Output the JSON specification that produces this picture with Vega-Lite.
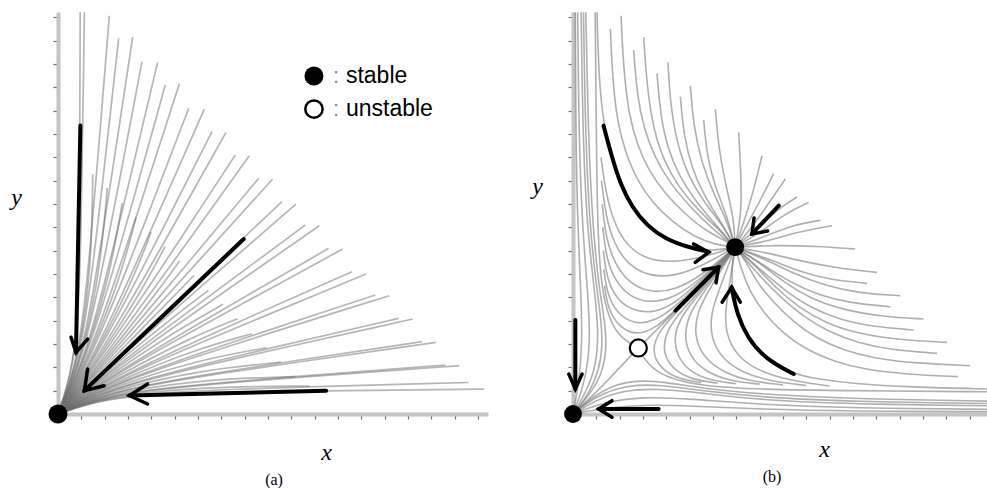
{
"$schema":"https://vega.github.io/schema/vega-lite/v6.json",
"padding":{"left":10,"top":8,"right":0,"bottom":0},
"config":{"view":{"stroke":null},"axis":{"labels":false,"grid":false,"domainColor":"#c4c4c4","domainWidth":4,"tickColor":"#6e6e6e","tickSize":5,"tickWidth":1.2,"titleFont":"Liberation Serif","titleFontStyle":"italic","titleFontSize":24,"titleFontWeight":"normal","titleColor":"#000","titleAlign":"center","titleBaseline":"alphabetic"}},
"datasets":{
"fanA":[
{"l":"a0","x":0.95,"y":17.22},{"l":"a0","x":0.92,"y":6.43},{"l":"a0","x":0.77,"y":2.9},{"l":"a0","x":0.39,"y":1.13},{"l":"a0","x":0,"y":0},
{"l":"a1","x":1.13,"y":17.22},{"l":"a1","x":0.98,"y":6.43},{"l":"a1","x":0.79,"y":2.89},{"l":"a1","x":0.4,"y":1.13},{"l":"a1","x":0,"y":0},
{"l":"a2","x":2.2,"y":17.07},{"l":"a2","x":1.34,"y":6.36},{"l":"a2","x":0.92,"y":2.86},{"l":"a2","x":0.44,"y":1.12},{"l":"a2","x":0,"y":0},
{"l":"h2","x":2.6,"y":16.1},{"l":"h2","x":1.52,"y":6.32},{"l":"h2","x":0.99,"y":2.83},{"l":"h2","x":0.46,"y":1.11},{"l":"h2","x":0,"y":0},
{"l":"a3","x":3.2,"y":16.15},{"l":"a3","x":1.71,"y":6.27},{"l":"a3","x":1.06,"y":2.81},{"l":"a3","x":0.49,"y":1.1},{"l":"a3","x":0,"y":0},
{"l":"h3","x":3.6,"y":15.1},{"l":"h3","x":1.92,"y":6.21},{"l":"h3","x":1.14,"y":2.78},{"l":"h3","x":0.51,"y":1.08},{"l":"h3","x":0,"y":0},
{"l":"a4","x":4.27,"y":15.07},{"l":"a4","x":2.15,"y":6.13},{"l":"a4","x":1.22,"y":2.74},{"l":"a4","x":0.54,"y":1.07},{"l":"a4","x":0,"y":0},
{"l":"h4","x":4.6,"y":14.1},{"l":"h4","x":2.36,"y":6.06},{"l":"h4","x":1.3,"y":2.71},{"l":"h4","x":0.57,"y":1.06},{"l":"h4","x":0,"y":0},
{"l":"a5","x":5.2,"y":14.14},{"l":"a5","x":2.56,"y":5.98},{"l":"a5","x":1.37,"y":2.67},{"l":"a5","x":0.59,"y":1.04},{"l":"a5","x":0,"y":0},
{"l":"h5","x":5.6,"y":13.1},{"l":"h5","x":2.83,"y":5.85},{"l":"h5","x":1.47,"y":2.62},{"l":"h5","x":0.63,"y":1.02},{"l":"h5","x":0,"y":0},
{"l":"a6","x":6.27,"y":13.07},{"l":"a6","x":3.05,"y":5.74},{"l":"a6","x":1.55,"y":2.57},{"l":"a6","x":0.65,"y":1.01},{"l":"a6","x":0,"y":0},
{"l":"h6","x":6.6,"y":12.1},{"l":"h6","x":3.31,"y":5.6},{"l":"h6","x":1.64,"y":2.51},{"l":"h6","x":0.69,"y":0.98},{"l":"h6","x":0,"y":0},
{"l":"a7","x":7.2,"y":12.07},{"l":"a7","x":3.5,"y":5.48},{"l":"a7","x":1.71,"y":2.46},{"l":"a7","x":0.71,"y":0.97},{"l":"a7","x":0,"y":0},
{"l":"h7","x":7.6,"y":11.1},{"l":"h7","x":3.79,"y":5.28},{"l":"h7","x":1.82,"y":2.38},{"l":"h7","x":0.75,"y":0.94},{"l":"h7","x":0,"y":0},
{"l":"a8","x":8.2,"y":11.07},{"l":"a8","x":3.96,"y":5.15},{"l":"a8","x":1.88,"y":2.33},{"l":"a8","x":0.77,"y":0.92},{"l":"a8","x":0,"y":0},
{"l":"h8","x":8.6,"y":10.1},{"l":"h8","x":4.26,"y":4.91},{"l":"h8","x":2.0,"y":2.24},{"l":"h8","x":0.81,"y":0.89},{"l":"h8","x":0,"y":0},
{"l":"a9","x":9.2,"y":10.07},{"l":"a9","x":4.41,"y":4.77},{"l":"a9","x":2.05,"y":2.19},{"l":"a9","x":0.82,"y":0.87},{"l":"a9","x":0,"y":0},
{"l":"h9","x":9.6,"y":9.1},{"l":"h9","x":4.7,"y":4.49},{"l":"h9","x":2.16,"y":2.08},{"l":"h9","x":0.86,"y":0.83},{"l":"h9","x":0,"y":0},
{"l":"a10","x":10.2,"y":9.0},{"l":"a10","x":4.84,"y":4.34},{"l":"a10","x":2.21,"y":2.02},{"l":"a10","x":0.88,"y":0.82},{"l":"a10","x":0,"y":0},
{"l":"h10","x":10.6,"y":8.1},{"l":"h10","x":5.1,"y":4.03},{"l":"h10","x":2.31,"y":1.91},{"l":"h10","x":0.92,"y":0.78},{"l":"h10","x":0,"y":0},
{"l":"a11","x":11.2,"y":8.07},{"l":"a11","x":5.2,"y":3.9},{"l":"a11","x":2.35,"y":1.86},{"l":"a11","x":0.93,"y":0.76},{"l":"a11","x":0,"y":0},
{"l":"h11","x":11.6,"y":7.1},{"l":"h11","x":5.45,"y":3.55},{"l":"h11","x":2.45,"y":1.73},{"l":"h11","x":0.96,"y":0.72},{"l":"h11","x":0,"y":0},
{"l":"a12","x":12.2,"y":7.07},{"l":"a12","x":5.52,"y":3.43},{"l":"a12","x":2.48,"y":1.69},{"l":"a12","x":0.97,"y":0.7},{"l":"a12","x":0,"y":0},
{"l":"h12","x":12.6,"y":6.1},{"l":"h12","x":5.73,"y":3.06},{"l":"h12","x":2.57,"y":1.55},{"l":"h12","x":1.01,"y":0.66},{"l":"h12","x":0,"y":0},
{"l":"a13","x":13.2,"y":6.0},{"l":"a13","x":5.8,"y":2.94},{"l":"a13","x":2.59,"y":1.51},{"l":"a13","x":1.01,"y":0.64},{"l":"a13","x":0,"y":0},
{"l":"h13","x":13.6,"y":5.1},{"l":"h13","x":5.96,"y":2.59},{"l":"h13","x":2.66,"y":1.38},{"l":"h13","x":1.04,"y":0.6},{"l":"h13","x":0,"y":0},
{"l":"a14","x":14.2,"y":5.07},{"l":"a14","x":6.0,"y":2.51},{"l":"a14","x":2.68,"y":1.35},{"l":"a14","x":1.05,"y":0.59},{"l":"a14","x":0,"y":0},
{"l":"h14","x":14.6,"y":4.1},{"l":"h14","x":6.14,"y":2.14},{"l":"h14","x":2.74,"y":1.22},{"l":"h14","x":1.07,"y":0.54},{"l":"h14","x":0,"y":0},
{"l":"a15","x":15.2,"y":4.07},{"l":"a15","x":6.16,"y":2.07},{"l":"a15","x":2.75,"y":1.19},{"l":"a15","x":1.07,"y":0.53},{"l":"a15","x":0,"y":0},
{"l":"h15","x":15.6,"y":3.1},{"l":"h15","x":6.27,"y":1.71},{"l":"h15","x":2.81,"y":1.06},{"l":"h15","x":1.1,"y":0.49},{"l":"h15","x":0,"y":0},
{"l":"a16","x":16.2,"y":3.07},{"l":"a16","x":6.28,"y":1.66},{"l":"a16","x":2.81,"y":1.04},{"l":"a16","x":1.1,"y":0.48},{"l":"a16","x":0,"y":0},
{"l":"h16","x":16.6,"y":2.1},{"l":"h16","x":6.36,"y":1.32},{"l":"h16","x":2.86,"y":0.92},{"l":"h16","x":1.12,"y":0.44},{"l":"h16","x":0,"y":0},
{"l":"a17","x":17.2,"y":2.07},{"l":"a17","x":6.37,"y":1.29},{"l":"a17","x":2.86,"y":0.9},{"l":"a17","x":1.12,"y":0.44},{"l":"a17","x":0,"y":0},
{"l":"h17","x":17.6,"y":1.35},{"l":"h17","x":6.42,"y":1.05},{"l":"h17","x":2.89,"y":0.81},{"l":"h17","x":1.13,"y":0.41},{"l":"h17","x":0,"y":0},
{"l":"a18","x":18.27,"y":1.07},{"l":"a18","x":6.43,"y":0.94},{"l":"a18","x":2.9,"y":0.78},{"l":"a18","x":1.13,"y":0.39},{"l":"a18","x":0,"y":0},
{"l":"q2","x":1.49,"y":10.28},{"l":"q2","x":1.43,"y":6.34},{"l":"q2","x":0.955,"y":2.845},{"l":"q2","x":0.45,"y":1.115},{"l":"q2","x":0,"y":0},
{"l":"q3","x":2.11,"y":9.69},{"l":"q3","x":1.815,"y":6.24},{"l":"q3","x":1.1,"y":2.795},{"l":"q3","x":0.5,"y":1.09},{"l":"q3","x":0,"y":0},
{"l":"q4","x":2.75,"y":9.04},{"l":"q4","x":2.255,"y":6.095},{"l":"q4","x":1.26,"y":2.725},{"l":"q4","x":0.555,"y":1.065},{"l":"q4","x":0,"y":0},
{"l":"q5","x":3.35,"y":8.44},{"l":"q5","x":2.695,"y":5.915},{"l":"q5","x":1.42,"y":2.645},{"l":"q5","x":0.61,"y":1.03},{"l":"q5","x":0,"y":0},
{"l":"q6","x":3.99,"y":7.8},{"l":"q6","x":3.18,"y":5.67},{"l":"q6","x":1.595,"y":2.54},{"l":"q6","x":0.67,"y":0.995},{"l":"q6","x":0,"y":0},
{"l":"q7","x":4.59,"y":7.18},{"l":"q7","x":3.645,"y":5.38},{"l":"q7","x":1.765,"y":2.42},{"l":"q7","x":0.73,"y":0.955},{"l":"q7","x":0,"y":0},
{"l":"q8","x":5.21,"y":6.56},{"l":"q8","x":4.11,"y":5.03},{"l":"q8","x":1.94,"y":2.285},{"l":"q8","x":0.79,"y":0.905},{"l":"q8","x":0,"y":0},
{"l":"q9","x":5.83,"y":5.94},{"l":"q9","x":4.555,"y":4.63},{"l":"q9","x":2.105,"y":2.135},{"l":"q9","x":0.84,"y":0.85},{"l":"q9","x":0,"y":0},
{"l":"q10","x":6.45,"y":5.3},{"l":"q10","x":4.97,"y":4.185},{"l":"q10","x":2.26,"y":1.965},{"l":"q10","x":0.9,"y":0.8},{"l":"q10","x":0,"y":0},
{"l":"q11","x":7.07,"y":4.7},{"l":"q11","x":5.325,"y":3.725},{"l":"q11","x":2.4,"y":1.795},{"l":"q11","x":0.945,"y":0.74},{"l":"q11","x":0,"y":0},
{"l":"q12","x":7.69,"y":4.08},{"l":"q12","x":5.625,"y":3.245},{"l":"q12","x":2.525,"y":1.62},{"l":"q12","x":0.99,"y":0.68},{"l":"q12","x":0,"y":0},
{"l":"q13","x":8.31,"y":3.44},{"l":"q13","x":5.88,"y":2.765},{"l":"q13","x":2.625,"y":1.445},{"l":"q13","x":1.025,"y":0.62},{"l":"q13","x":0,"y":0},
{"l":"q14","x":8.93,"y":2.84},{"l":"q14","x":6.07,"y":2.325},{"l":"q14","x":2.71,"y":1.285},{"l":"q14","x":1.06,"y":0.565},{"l":"q14","x":0,"y":0},
{"l":"q15","x":9.55,"y":2.22},{"l":"q15","x":6.215,"y":1.89},{"l":"q15","x":2.78,"y":1.125},{"l":"q15","x":1.085,"y":0.51},{"l":"q15","x":0,"y":0},
{"l":"q16","x":10.17,"y":1.6},{"l":"q16","x":6.32,"y":1.49},{"l":"q16","x":2.835,"y":0.98},{"l":"q16","x":1.11,"y":0.46},{"l":"q16","x":0,"y":0},
{"l":"q17","x":10.79,"y":1.2},{"l":"q17","x":6.395,"y":1.17},{"l":"q17","x":2.875,"y":0.855},{"l":"q17","x":1.125,"y":0.425},{"l":"q17","x":0,"y":0}
],
"shaftA":[
{"l":"v","x":0.96,"y":12.36},{"l":"v","x":0.77,"y":2.64},
{"l":"d","x":7.96,"y":7.5},{"l":"d","x":1.13,"y":1.0},
{"l":"h","x":11.49,"y":1.0},{"l":"h","x":3.06,"y":0.79}
],
"headA":[
{"l":"v","x":0.56,"y":3.29},{"l":"v","x":0.77,"y":2.64},{"l":"v","x":1.27,"y":3.21},
{"l":"d","x":1.27,"y":1.93},{"l":"d","x":1.13,"y":1.0},{"l":"d","x":1.98,"y":1.21},
{"l":"h","x":3.84,"y":1.29},{"l":"h","x":3.06,"y":0.79},{"l":"h","x":3.84,"y":0.43}
],
"fanB":[
{"l":"L1","x":1.03,"y":17.22},{"l":"L1","x":1.1,"y":14.5},{"l":"L1","x":1.31,"y":12.36},{"l":"L1","x":1.67,"y":11.0},{"l":"L1","x":2.03,"y":9.86},{"l":"L1","x":2.53,"y":8.86},{"l":"L1","x":3.17,"y":8.07},{"l":"L1","x":3.96,"y":7.5},{"l":"L1","x":4.96,"y":7.14},{"l":"L1","x":5.85,"y":6.97},{"l":"L1","x":6.95,"y":7.15},
{"l":"L15","x":1.6,"y":16.5},{"l":"L15","x":1.7,"y":14.3},{"l":"L15","x":1.9,"y":12.5},{"l":"L15","x":2.25,"y":11.2},{"l":"L15","x":2.75,"y":10.0},{"l":"L15","x":3.45,"y":9.0},{"l":"L15","x":4.3,"y":8.2},{"l":"L15","x":5.2,"y":7.6},{"l":"L15","x":6.1,"y":7.25},{"l":"L15","x":6.95,"y":7.15},
{"l":"L2","x":2.06,"y":17.07},{"l":"L2","x":2.17,"y":14.72},{"l":"L2","x":2.39,"y":12.86},{"l":"L2","x":2.74,"y":11.57},{"l":"L2","x":3.24,"y":10.43},{"l":"L2","x":3.96,"y":9.43},{"l":"L2","x":4.81,"y":8.57},{"l":"L2","x":5.67,"y":7.86},{"l":"L2","x":6.53,"y":7.43},{"l":"L2","x":6.95,"y":7.15},
{"l":"L25","x":2.6,"y":15.6},{"l":"L25","x":2.75,"y":13.6},{"l":"L25","x":3.05,"y":12.2},{"l":"L25","x":3.5,"y":11.0},{"l":"L25","x":4.15,"y":9.9},{"l":"L25","x":5.0,"y":8.9},{"l":"L25","x":5.9,"y":8.0},{"l":"L25","x":6.95,"y":7.15},
{"l":"L3","x":3.03,"y":16.15},{"l":"L3","x":3.17,"y":14.0},{"l":"L3","x":3.46,"y":12.14},{"l":"L3","x":3.89,"y":10.86},{"l":"L3","x":4.53,"y":9.71},{"l":"L3","x":5.39,"y":8.71},{"l":"L3","x":6.24,"y":7.93},{"l":"L3","x":6.95,"y":7.15},
{"l":"L35","x":3.6,"y":14.6},{"l":"L35","x":3.75,"y":12.8},{"l":"L35","x":4.05,"y":11.4},{"l":"L35","x":4.55,"y":10.2},{"l":"L35","x":5.2,"y":9.2},{"l":"L35","x":5.95,"y":8.3},{"l":"L35","x":6.95,"y":7.15},
{"l":"L4","x":4.07,"y":15.07},{"l":"L4","x":4.17,"y":13.29},{"l":"L4","x":4.46,"y":11.57},{"l":"L4","x":4.96,"y":10.14},{"l":"L4","x":5.67,"y":9.0},{"l":"L4","x":6.39,"y":8.14},{"l":"L4","x":6.95,"y":7.15},
{"l":"L45","x":4.6,"y":13.6},{"l":"L45","x":4.75,"y":11.9},{"l":"L45","x":5.1,"y":10.5},{"l":"L45","x":5.65,"y":9.3},{"l":"L45","x":6.3,"y":8.3},{"l":"L45","x":6.95,"y":7.15},
{"l":"L5","x":5.03,"y":14.07},{"l":"L5","x":5.17,"y":12.29},{"l":"L5","x":5.53,"y":10.71},{"l":"L5","x":6.03,"y":9.43},{"l":"L5","x":6.6,"y":8.29},{"l":"L5","x":6.95,"y":7.15},
{"l":"L55","x":5.6,"y":12.6},{"l":"L55","x":5.75,"y":11.0},{"l":"L55","x":6.1,"y":9.7},{"l":"L55","x":6.6,"y":8.5},{"l":"L55","x":6.95,"y":7.15},
{"l":"L6","x":6.1,"y":13.07},{"l":"L6","x":6.24,"y":11.43},{"l":"L6","x":6.53,"y":9.86},{"l":"L6","x":6.89,"y":8.43},{"l":"L6","x":6.95,"y":7.15},
{"l":"L7","x":7.1,"y":12.07},{"l":"L7","x":7.19,"y":10.43},{"l":"L7","x":7.24,"y":8.71},{"l":"L7","x":6.95,"y":7.15},
{"l":"D1","x":8.1,"y":11.07},{"l":"D1","x":7.75,"y":9.6},{"l":"D1","x":7.35,"y":8.3},{"l":"D1","x":6.95,"y":7.15},
{"l":"D15","x":8.6,"y":10.3},{"l":"D15","x":8.0,"y":9.1},{"l":"D15","x":7.45,"y":8.1},{"l":"D15","x":6.95,"y":7.15},
{"l":"D2","x":9.1,"y":10.07},{"l":"D2","x":8.5,"y":9.2},{"l":"D2","x":7.75,"y":8.1},{"l":"D2","x":6.95,"y":7.15},
{"l":"D25","x":9.6,"y":9.3},{"l":"D25","x":8.8,"y":8.8},{"l":"D25","x":7.9,"y":7.95},{"l":"D25","x":6.95,"y":7.15},
{"l":"D3","x":10.1,"y":9.07},{"l":"D3","x":9.1,"y":8.6},{"l":"D3","x":8.0,"y":7.75},{"l":"D3","x":6.95,"y":7.15},
{"l":"D35","x":10.6,"y":8.3},{"l":"D35","x":9.4,"y":8.1},{"l":"D35","x":8.2,"y":7.6},{"l":"D35","x":6.95,"y":7.15},
{"l":"D4","x":11.1,"y":8.07},{"l":"D4","x":9.6,"y":7.8},{"l":"D4","x":8.3,"y":7.4},{"l":"D4","x":6.95,"y":7.15},
{"l":"R7","x":12.1,"y":7.07},{"l":"R7","x":10.43,"y":7.19},{"l":"R7","x":8.71,"y":7.24},{"l":"R7","x":6.95,"y":7.15},
{"l":"R55","x":12.6,"y":5.6},{"l":"R55","x":11.0,"y":5.75},{"l":"R55","x":9.7,"y":6.1},{"l":"R55","x":8.5,"y":6.6},{"l":"R55","x":6.95,"y":7.15},
{"l":"R6","x":13.03,"y":6.07},{"l":"R6","x":11.43,"y":6.24},{"l":"R6","x":9.86,"y":6.53},{"l":"R6","x":8.43,"y":6.89},{"l":"R6","x":6.95,"y":7.15},
{"l":"R5","x":14.03,"y":5.07},{"l":"R5","x":12.29,"y":5.17},{"l":"R5","x":10.71,"y":5.53},{"l":"R5","x":9.43,"y":6.03},{"l":"R5","x":8.29,"y":6.6},{"l":"R5","x":6.95,"y":7.15},
{"l":"R45","x":13.6,"y":4.6},{"l":"R45","x":11.9,"y":4.75},{"l":"R45","x":10.5,"y":5.1},{"l":"R45","x":9.3,"y":5.65},{"l":"R45","x":8.3,"y":6.3},{"l":"R45","x":6.95,"y":7.15},
{"l":"R4","x":15.03,"y":4.07},{"l":"R4","x":13.29,"y":4.17},{"l":"R4","x":11.57,"y":4.46},{"l":"R4","x":10.14,"y":4.96},{"l":"R4","x":9.0,"y":5.67},{"l":"R4","x":8.14,"y":6.39},{"l":"R4","x":6.95,"y":7.15},
{"l":"R35","x":14.6,"y":3.6},{"l":"R35","x":12.8,"y":3.75},{"l":"R35","x":11.4,"y":4.05},{"l":"R35","x":10.2,"y":4.55},{"l":"R35","x":9.2,"y":5.2},{"l":"R35","x":8.3,"y":5.95},{"l":"R35","x":6.95,"y":7.15},
{"l":"R3","x":16.03,"y":3.07},{"l":"R3","x":14.0,"y":3.17},{"l":"R3","x":12.14,"y":3.46},{"l":"R3","x":10.86,"y":3.89},{"l":"R3","x":9.71,"y":4.53},{"l":"R3","x":8.71,"y":5.39},{"l":"R3","x":7.93,"y":6.24},{"l":"R3","x":6.95,"y":7.15},
{"l":"R25","x":15.6,"y":2.6},{"l":"R25","x":13.6,"y":2.75},{"l":"R25","x":12.2,"y":3.05},{"l":"R25","x":11.0,"y":3.5},{"l":"R25","x":9.9,"y":4.15},{"l":"R25","x":8.9,"y":5.0},{"l":"R25","x":8.0,"y":5.9},{"l":"R25","x":6.95,"y":7.15},
{"l":"R2","x":17.03,"y":2.07},{"l":"R2","x":14.72,"y":2.17},{"l":"R2","x":12.86,"y":2.39},{"l":"R2","x":11.57,"y":2.74},{"l":"R2","x":10.43,"y":3.24},{"l":"R2","x":9.43,"y":3.96},{"l":"R2","x":8.57,"y":4.81},{"l":"R2","x":7.86,"y":5.67},{"l":"R2","x":7.43,"y":6.53},{"l":"R2","x":6.95,"y":7.15},
{"l":"R15","x":16.5,"y":1.6},{"l":"R15","x":14.3,"y":1.7},{"l":"R15","x":12.5,"y":1.9},{"l":"R15","x":11.2,"y":2.25},{"l":"R15","x":10.0,"y":2.75},{"l":"R15","x":9.0,"y":3.45},{"l":"R15","x":8.2,"y":4.3},{"l":"R15","x":7.6,"y":5.2},{"l":"R15","x":7.25,"y":6.1},{"l":"R15","x":6.95,"y":7.15},
{"l":"R1","x":17.82,"y":1.07},{"l":"R1","x":14.5,"y":1.15},{"l":"R1","x":12.0,"y":1.3},{"l":"R1","x":10.5,"y":1.5},{"l":"R1","x":9.46,"y":1.71},{"l":"R1","x":8.24,"y":2.36},{"l":"R1","x":7.46,"y":3.29},{"l":"R1","x":7.03,"y":4.29},{"l":"R1","x":6.82,"y":5.29},{"l":"R1","x":6.8,"y":6.3},{"l":"R1","x":6.95,"y":7.15},
{"l":"I1","x":1.2,"y":11.0},{"l":"I1","x":1.4,"y":9.5},{"l":"I1","x":1.75,"y":8.2},{"l":"I1","x":2.3,"y":7.2},{"l":"I1","x":3.2,"y":6.6},{"l":"I1","x":4.3,"y":6.5},{"l":"I1","x":5.5,"y":6.7},{"l":"I1","x":6.95,"y":7.15},
{"l":"I15","x":1.22,"y":10.0},{"l":"I15","x":1.4,"y":8.5},{"l":"I15","x":1.75,"y":7.3},{"l":"I15","x":2.35,"y":6.4},{"l":"I15","x":3.25,"y":5.9},{"l":"I15","x":4.35,"y":5.9},{"l":"I15","x":5.55,"y":6.35},{"l":"I15","x":6.95,"y":7.15},
{"l":"I2","x":1.25,"y":9.0},{"l":"I2","x":1.4,"y":7.6},{"l":"I2","x":1.75,"y":6.5},{"l":"I2","x":2.4,"y":5.6},{"l":"I2","x":3.3,"y":5.2},{"l":"I2","x":4.4,"y":5.3},{"l":"I2","x":5.6,"y":6.0},{"l":"I2","x":6.95,"y":7.15},
{"l":"I25","x":1.28,"y":8.0},{"l":"I25","x":1.42,"y":6.7},{"l":"I25","x":1.8,"y":5.7},{"l":"I25","x":2.45,"y":5.0},{"l":"I25","x":3.35,"y":4.75},{"l":"I25","x":4.4,"y":5.0},{"l":"I25","x":5.55,"y":5.85},{"l":"I25","x":6.95,"y":7.15},
{"l":"I3","x":1.3,"y":7.0},{"l":"I3","x":1.45,"y":5.8},{"l":"I3","x":1.85,"y":4.95},{"l":"I3","x":2.5,"y":4.45},{"l":"I3","x":3.4,"y":4.3},{"l":"I3","x":4.4,"y":4.75},{"l":"I3","x":5.5,"y":5.75},{"l":"I3","x":6.95,"y":7.15},
{"l":"I35","x":1.32,"y":6.2},{"l":"I35","x":1.47,"y":5.1},{"l":"I35","x":1.9,"y":4.3},{"l":"I35","x":2.6,"y":3.85},{"l":"I35","x":3.5,"y":3.95},{"l":"I35","x":4.5,"y":4.7},{"l":"I35","x":5.55,"y":5.72},{"l":"I35","x":6.95,"y":7.15},
{"l":"I4","x":1.35,"y":5.5},{"l":"I4","x":1.5,"y":4.5},{"l":"I4","x":1.95,"y":3.75},{"l":"I4","x":2.7,"y":3.35},{"l":"I4","x":3.6,"y":3.7},{"l":"I4","x":4.6,"y":4.65},{"l":"I4","x":5.6,"y":5.7},{"l":"I4","x":6.95,"y":7.15},
{"l":"J1","x":11.0,"y":1.2},{"l":"J1","x":9.5,"y":1.4},{"l":"J1","x":8.2,"y":1.75},{"l":"J1","x":7.2,"y":2.3},{"l":"J1","x":6.6,"y":3.2},{"l":"J1","x":6.5,"y":4.3},{"l":"J1","x":6.7,"y":5.5},{"l":"J1","x":6.95,"y":7.15},
{"l":"J15","x":10.0,"y":1.22},{"l":"J15","x":8.5,"y":1.4},{"l":"J15","x":7.3,"y":1.75},{"l":"J15","x":6.4,"y":2.35},{"l":"J15","x":5.9,"y":3.25},{"l":"J15","x":5.9,"y":4.35},{"l":"J15","x":6.35,"y":5.55},{"l":"J15","x":6.95,"y":7.15},
{"l":"J2","x":9.0,"y":1.25},{"l":"J2","x":7.6,"y":1.4},{"l":"J2","x":6.5,"y":1.75},{"l":"J2","x":5.6,"y":2.4},{"l":"J2","x":5.2,"y":3.3},{"l":"J2","x":5.3,"y":4.4},{"l":"J2","x":6.0,"y":5.6},{"l":"J2","x":6.95,"y":7.15},
{"l":"J25","x":8.0,"y":1.28},{"l":"J25","x":6.7,"y":1.42},{"l":"J25","x":5.7,"y":1.8},{"l":"J25","x":5.0,"y":2.45},{"l":"J25","x":4.75,"y":3.35},{"l":"J25","x":5.0,"y":4.4},{"l":"J25","x":5.85,"y":5.55},{"l":"J25","x":6.95,"y":7.15},
{"l":"J3","x":7.0,"y":1.3},{"l":"J3","x":5.8,"y":1.45},{"l":"J3","x":4.95,"y":1.85},{"l":"J3","x":4.45,"y":2.5},{"l":"J3","x":4.3,"y":3.4},{"l":"J3","x":4.75,"y":4.4},{"l":"J3","x":5.75,"y":5.5},{"l":"J3","x":6.95,"y":7.15},
{"l":"J35","x":6.2,"y":1.32},{"l":"J35","x":5.1,"y":1.47},{"l":"J35","x":4.3,"y":1.9},{"l":"J35","x":3.85,"y":2.6},{"l":"J35","x":3.95,"y":3.5},{"l":"J35","x":4.7,"y":4.5},{"l":"J35","x":5.72,"y":5.55},{"l":"J35","x":6.95,"y":7.15},
{"l":"J4","x":5.5,"y":1.35},{"l":"J4","x":4.5,"y":1.5},{"l":"J4","x":3.75,"y":1.95},{"l":"J4","x":3.35,"y":2.7},{"l":"J4","x":3.7,"y":3.6},{"l":"J4","x":4.65,"y":4.6},{"l":"J4","x":5.7,"y":5.6},{"l":"J4","x":6.95,"y":7.15},
{"l":"S1","x":2.8,"y":2.83},{"l":"S1","x":3.6,"y":3.62},{"l":"S1","x":4.5,"y":4.52},{"l":"S1","x":5.5,"y":5.55},{"l":"S1","x":6.3,"y":6.4},{"l":"S1","x":6.95,"y":7.15},
{"l":"S2","x":2.8,"y":2.83},{"l":"S2","x":2.2,"y":2.2},{"l":"S2","x":1.5,"y":1.45},{"l":"S2","x":0.8,"y":0.75},{"l":"S2","x":0.3,"y":0.28},{"l":"S2","x":0,"y":0},
{"l":"MT","x":0.95,"y":17.22},{"l":"MT","x":1.0,"y":12},{"l":"MT","x":1.05,"y":8},{"l":"MT","x":1.2,"y":5.5},{"l":"MT","x":1.55,"y":4.0},{"l":"MT","x":2.1,"y":3.2},{"l":"MT","x":2.8,"y":2.83},
{"l":"MR","x":17.8,"y":0.95},{"l":"MR","x":12,"y":1.0},{"l":"MR","x":8,"y":1.05},{"l":"MR","x":5.5,"y":1.2},{"l":"MR","x":4.0,"y":1.55},{"l":"MR","x":3.2,"y":2.1},{"l":"MR","x":2.8,"y":2.83},
{"l":"W1","x":0.1,"y":17.22},{"l":"W1","x":0.12,"y":12},{"l":"W1","x":0.2,"y":8},{"l":"W1","x":0.35,"y":5},{"l":"W1","x":0.4,"y":3},{"l":"W1","x":0.25,"y":1.3},{"l":"W1","x":0,"y":0},
{"l":"W2","x":0.2,"y":17.22},{"l":"W2","x":0.25,"y":12},{"l":"W2","x":0.4,"y":8},{"l":"W2","x":0.65,"y":5},{"l":"W2","x":0.75,"y":3},{"l":"W2","x":0.5,"y":1.3},{"l":"W2","x":0,"y":0},
{"l":"W3","x":0.35,"y":17.22},{"l":"W3","x":0.42,"y":12},{"l":"W3","x":0.6,"y":8},{"l":"W3","x":0.9,"y":5.5},{"l":"W3","x":1.1,"y":3.6},{"l":"W3","x":1.0,"y":2.1},{"l":"W3","x":0.6,"y":1.0},{"l":"W3","x":0,"y":0},
{"l":"W5","x":0.45,"y":17.22},{"l":"W5","x":0.53,"y":12},{"l":"W5","x":0.72,"y":8},{"l":"W5","x":1.0,"y":5.5},{"l":"W5","x":1.25,"y":3.75},{"l":"W5","x":1.25,"y":2.4},{"l":"W5","x":0.9,"y":1.3},{"l":"W5","x":0.45,"y":0.55},{"l":"W5","x":0,"y":0},
{"l":"W4","x":0.55,"y":17.22},{"l":"W4","x":0.65,"y":12},{"l":"W4","x":0.85,"y":8},{"l":"W4","x":1.1,"y":5.5},{"l":"W4","x":1.38,"y":3.9},{"l":"W4","x":1.45,"y":2.7},{"l":"W4","x":1.2,"y":1.6},{"l":"W4","x":0.65,"y":0.75},{"l":"W4","x":0,"y":0},
{"l":"X1","x":17.8,"y":0.1},{"l":"X1","x":12,"y":0.12},{"l":"X1","x":8,"y":0.2},{"l":"X1","x":5,"y":0.35},{"l":"X1","x":3,"y":0.4},{"l":"X1","x":1.3,"y":0.25},{"l":"X1","x":0,"y":0},
{"l":"X2","x":17.8,"y":0.2},{"l":"X2","x":12,"y":0.25},{"l":"X2","x":8,"y":0.4},{"l":"X2","x":5,"y":0.65},{"l":"X2","x":3,"y":0.75},{"l":"X2","x":1.3,"y":0.5},{"l":"X2","x":0,"y":0},
{"l":"X3","x":17.8,"y":0.35},{"l":"X3","x":12,"y":0.42},{"l":"X3","x":8,"y":0.6},{"l":"X3","x":5.5,"y":0.9},{"l":"X3","x":3.6,"y":1.1},{"l":"X3","x":2.1,"y":1.0},{"l":"X3","x":1.0,"y":0.6},{"l":"X3","x":0,"y":0},
{"l":"X5","x":17.8,"y":0.45},{"l":"X5","x":12,"y":0.53},{"l":"X5","x":8,"y":0.72},{"l":"X5","x":5.5,"y":1.0},{"l":"X5","x":3.75,"y":1.25},{"l":"X5","x":2.4,"y":1.25},{"l":"X5","x":1.3,"y":0.9},{"l":"X5","x":0.55,"y":0.45},{"l":"X5","x":0,"y":0},
{"l":"X4","x":17.8,"y":0.55},{"l":"X4","x":12,"y":0.65},{"l":"X4","x":8,"y":0.85},{"l":"X4","x":5.5,"y":1.1},{"l":"X4","x":3.9,"y":1.38},{"l":"X4","x":2.7,"y":1.45},{"l":"X4","x":1.6,"y":1.2},{"l":"X4","x":0.75,"y":0.65},{"l":"X4","x":0,"y":0}
],
"shaftB":[
{"l":"b1","x":1.31,"y":12.36},{"l":"b1","x":1.67,"y":11.0},{"l":"b1","x":2.03,"y":9.86},{"l":"b1","x":2.53,"y":8.86},{"l":"b1","x":3.17,"y":8.07},{"l":"b1","x":3.96,"y":7.5},{"l":"b1","x":4.96,"y":7.14},{"l":"b1","x":5.82,"y":6.95},
{"l":"b2","x":9.46,"y":1.71},{"l":"b2","x":8.24,"y":2.36},{"l":"b2","x":7.46,"y":3.29},{"l":"b2","x":7.03,"y":4.29},{"l":"b2","x":6.82,"y":5.29},{"l":"b2","x":6.8,"y":5.43},
{"l":"b3","x":4.39,"y":4.43},{"l":"b3","x":6.24,"y":6.29},
{"l":"b4","x":8.82,"y":8.93},{"l":"b4","x":7.67,"y":7.72},
{"l":"b5","x":0.1,"y":4.03},{"l":"b5","x":0.1,"y":1.07},
{"l":"b6","x":3.67,"y":0.21},{"l":"b6","x":1.1,"y":0.21}
],
"headB":[
{"l":"b1","x":5.17,"y":7.29},{"l":"b1","x":5.82,"y":6.93},{"l":"b1","x":5.24,"y":6.5},
{"l":"b2","x":6.39,"y":4.79},{"l":"b2","x":6.8,"y":5.43},{"l":"b2","x":7.17,"y":4.79},
{"l":"b3","x":5.57,"y":6.18},{"l":"b3","x":6.24,"y":6.29},{"l":"b3","x":6.13,"y":5.62},
{"l":"b4","x":8.34,"y":7.84},{"l":"b4","x":7.67,"y":7.72},{"l":"b4","x":7.76,"y":8.4},
{"l":"b5","x":-0.18,"y":1.71},{"l":"b5","x":0.1,"y":1.07},{"l":"b5","x":0.39,"y":1.71},
{"l":"b6","x":1.67,"y":0.57},{"l":"b6","x":1.1,"y":0.21},{"l":"b6","x":1.67,"y":-0.14}
]
},
"hconcat":[
{
"width":430,"height":402,
"title":{"text":"(a)","orient":"bottom","anchor":"middle","frame":"group","dx":1,"offset":8,"font":"Liberation Serif","fontSize":16,"fontWeight":"normal","color":"#000"},
"encoding":{
"x":{"field":"x","type":"quantitative","scale":{"domain":[0,18.43],"nice":false,"zero":false},"axis":{"title":"x","values":[1,2,3,4,5,6,7,8,9,10,11,12,13,14,15,16,17,18],"titleX":268,"titleY":45}},
"y":{"field":"y","type":"quantitative","scale":{"domain":[0,17.23],"nice":false,"zero":false},"axis":{"title":"y","values":[1,2,3,4,5,6,7,8,9,10,11,12,13,14,15,16,17],"titleAngle":0,"titleX":-42,"titleY":192}}
},
"layer":[
{"data":{"name":"fanA"},"mark":{"type":"line","stroke":"#6e6e6e","strokeWidth":1.7,"opacity":0.5,"interpolate":"basis"},"encoding":{"detail":{"field":"l"},"order":{"value":null}}},
{"data":{"name":"shaftA"},"mark":{"type":"line","stroke":"#000","strokeWidth":4,"strokeCap":"round"},"encoding":{"detail":{"field":"l"},"order":{"value":null}}},
{"data":{"name":"headA"},"mark":{"type":"line","stroke":"#000","strokeWidth":3.5,"strokeCap":"round","strokeJoin":"miter"},"encoding":{"detail":{"field":"l"},"order":{"value":null}}},
{"data":{"values":[{"x":0,"y":0},{"x":10.97,"y":14.49}]},"mark":{"type":"point","shape":"circle","filled":true,"color":"#000","opacity":1,"size":360}},
{"data":{"values":[{"x":10.97,"y":13.07}]},"mark":{"type":"point","shape":"circle","filled":false,"fill":"#fff","stroke":"#000","strokeWidth":2.5,"opacity":1,"size":300}},
{"data":{"values":[{"x":11.92,"y":14.49,"t":":"},{"x":11.92,"y":13.07,"t":":"}]},"mark":{"type":"text","font":"Liberation Sans","fontSize":22,"color":"#888","align":"center","baseline":"middle"},"encoding":{"text":{"field":"t"}}},
{"data":{"values":[{"x":12.34,"y":14.49,"t":"stable"},{"x":12.34,"y":13.07,"t":"unstable"}]},"mark":{"type":"text","font":"Liberation Sans","fontSize":23,"color":"#000","align":"left","baseline":"middle"},"encoding":{"text":{"field":"t"}}}
]
},
{
"width":416,"height":402,
"title":{"text":"(b)","orient":"bottom","anchor":"middle","frame":"group","dx":-9,"offset":8,"font":"Liberation Serif","fontSize":16,"fontWeight":"normal","color":"#000"},
"encoding":{
"x":{"field":"x","type":"quantitative","scale":{"domain":[0,17.83],"nice":false,"zero":false},"axis":{"title":"x","values":[1,2,3,4,5,6,7,8,9,10,11,12,13,14,15,16,17],"titleX":251,"titleY":42}},
"y":{"field":"y","type":"quantitative","scale":{"domain":[0,17.23],"nice":false,"zero":false},"axis":{"title":"y","values":[1,2,3,4,5,6,7,8,9,10,11,12,13,14,15,16,17],"titleAngle":0,"titleX":-36,"titleY":181}}
},
"layer":[
{"data":{"name":"fanB"},"mark":{"type":"line","stroke":"#7a7a7a","strokeWidth":1.6,"opacity":0.6,"interpolate":"basis"},"encoding":{"detail":{"field":"l"},"order":{"value":null}}},
{"data":{"name":"shaftB"},"mark":{"type":"line","stroke":"#000","strokeWidth":4,"strokeCap":"round","interpolate":"basis"},"encoding":{"detail":{"field":"l"},"order":{"value":null}}},
{"data":{"name":"headB"},"mark":{"type":"line","stroke":"#000","strokeWidth":3.5,"strokeCap":"round"},"encoding":{"detail":{"field":"l"},"order":{"value":null}}},
{"data":{"values":[{"x":0,"y":0},{"x":6.95,"y":7.15}]},"mark":{"type":"point","shape":"circle","filled":true,"color":"#000","opacity":1,"size":320}},
{"data":{"values":[{"x":2.8,"y":2.83}]},"mark":{"type":"point","shape":"circle","filled":false,"fill":"#fff","stroke":"#000","strokeWidth":2.2,"opacity":1,"size":290}}
]
}
],
"spacing":43
}
